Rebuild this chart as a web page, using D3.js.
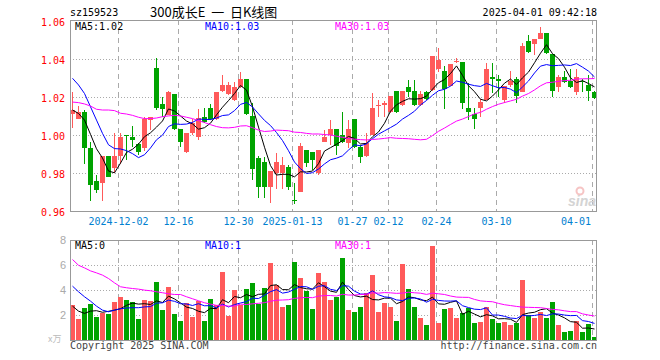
<!DOCTYPE html>
<html>
<head>
<meta charset="utf-8">
<script src="https://cdn.jsdelivr.net/npm/d3@7/dist/d3.min.js"></script>
<style>
    body { margin: 0; background: #fff; }
    text { font-family: "DejaVu Sans Mono", monospace; font-size: 10px; }
</style>
</head>
<body>
<script>
// 300成长E daily k-line, 2024-11-20 .. 2025-04-01 (88 sessions)

var tickIdx = [8, 18, 28, 37, 47, 53, 61, 71, 87];
var tickLabels = ["2024-12-02", "12-16", "12-30", "2025-01-13", "01-27", "02-12", "02-24", "03-10", "04-01"];

var open = [1.0112, 1.0086, 1.0123, 0.9933, 0.976, 0.975, 0.989, 0.983, 0.989, 1.0, 0.9991, 0.9954, 0.9933, 1.008, 1.0354, 1.0165, 1.0107, 1.0218, 1.0033, 0.991, 1.001, 0.999, 1.0098, 1.0142, 1.0084,
    1.0233, 1.0218, 1.0186, 1.0256, 1.0295, 1.0104, 0.988, 0.986, 0.9726, 0.98, 0.98, 0.9835, 0.9662, 0.9703, 0.9923, 0.9914, 0.98, 0.9967, 1.0002, 1.0033, 1.0002, 0.9958, 1.0086, 0.994, 0.9891, 1.0002, 1.0158, 1.016, 1.0125, 1.0233, 1.016, 1.0256, 1.0233, 1.016, 1.023, 1.0239, 1.0347,
    1.0339, 1.0261, 1.0389, 1.0386, 1.0146, 1.0112, 1.0142, 1.0186, 1.0305, 1.0296, 1.0186, 1.0265, 1.0295, 1.023, 1.0496, 1.0481, 1.0509, 1.0537, 1.0428, 1.0256, 1.0305, 1.0286, 1.023, 1.0284, 1.0265, 1.023];

var close = [1.0133, 1.0123, 0.9935, 0.974, 0.9714, 0.989, 0.978, 0.989, 0.9993, 0.9995, 0.9975, 0.9914, 1.0086, 1.0096, 1.0144, 1.0137, 1.023, 1.0033, 0.9965, 1.001, 1.0063, 1.009, 1.0072, 1.0084, 1.0228,
    1.0265, 1.0265, 1.0256, 1.0295, 1.011, 0.9825, 0.973, 0.9726, 0.9812, 0.9861, 0.9844, 0.973, 0.966, 0.9944, 0.9856, 0.987, 0.9923, 0.9993, 1.0033, 0.9944, 0.9967, 1.0033, 0.994, 0.9888, 0.9958, 1.0142, 1.016, 1.0168, 1.0207, 1.0125, 1.0233, 1.0228, 1.016, 1.0218, 1.0191, 1.0418, 1.0396,
    1.0244, 1.0375, 1.0393, 1.0168, 1.0125, 1.0086, 1.0177, 1.0349, 1.0296, 1.0288, 1.0261, 1.0286, 1.0207, 1.047, 1.0439, 1.0507, 1.0537, 1.0432, 1.0233, 1.0309, 1.0282, 1.0256, 1.0309, 1.0282, 1.0233, 1.0195];

var high = [1.023, 1.0154, 1.0133, 0.9967, 0.979, 0.989, 0.989, 1.001, 1.001, 1.0, 1.005, 0.996, 1.0098, 1.0096, 1.0407, 1.02, 1.0235, 1.0218, 1.0033, 1.001, 1.0088, 1.0137, 1.0142, 1.0165, 1.0228,
    1.0318, 1.028, 1.028, 1.0335, 1.0295, 1.0168, 0.989, 0.9888, 0.9812, 0.9905, 0.9888, 0.9844, 0.9747, 0.9961, 0.9923, 0.9914, 0.9923, 1.0028, 1.008, 1.0033, 1.0125, 1.008, 1.0086, 0.9949, 1.001, 1.0225, 1.0186, 1.018, 1.0207, 1.0233, 1.0233, 1.0291, 1.0291, 1.0235, 1.0235, 1.0418, 1.0458,
    1.0365, 1.0375, 1.0405, 1.0386, 1.0274, 1.0142, 1.019, 1.0379, 1.0379, 1.0318, 1.0261, 1.0339, 1.0309, 1.0484, 1.0528, 1.0507, 1.0568, 1.0537, 1.0428, 1.0318, 1.0339, 1.0347, 1.0347, 1.0295, 1.0318, 1.0233];

var low = [1.004, 1.0086, 0.985, 0.9656, 0.9695, 0.9656, 0.978, 0.98, 0.985, 0.987, 0.994, 0.9897, 0.992, 1.003, 1.0133, 1.0095, 1.0107, 1.0028, 0.994, 0.9905, 1.0002, 0.9975, 1.0063, 1.008, 1.008,
    1.023, 1.0212, 1.0182, 1.0247, 1.0107, 0.9765, 0.9668, 0.9668, 0.9646, 0.972, 0.972, 0.9712, 0.964, 0.9703, 0.9835, 0.9817, 0.979, 0.9963, 0.995, 0.9896, 0.9958, 0.9932, 0.9932, 0.9856, 0.9888, 1.0002, 1.0098, 1.0098, 1.012, 1.012, 1.0155, 1.02, 1.0155, 1.0155, 1.0186, 1.0235, 1.0335,
    1.0137, 1.0258, 1.038, 1.0137, 1.0081, 1.0032, 1.0098, 1.0186, 1.0221, 1.02, 1.0168, 1.0256, 1.0172, 1.023, 1.0435, 1.0423, 1.0505, 1.0428, 1.0204, 1.023, 1.0274, 1.0251, 1.0212, 1.023, 1.0182, 1.019];

// volume, 万手
var volume = [2.79, 1.68, 2.55, 2.87, 1.84, 2.15, 2.07, 3.03, 3.43, 3.19, 3.03, 1.68, 3.19, 3.11, 4.63, 2.39, 4.23, 2.07, 1.52, 2.95, 1.84, 3.11, 1.52, 3.27, 2.79,
    5.43, 1.91, 3.99, 2.79, 4.07, 4.55, 2.87, 4.15, 6.14, 4.39, 2.63, 2.79, 6.22, 4.95, 3.91, 2.47, 5.35, 4.63, 3.19, 3.43, 6.54, 2.39, 2.23, 2.63, 3.75, 5.19, 2.23, 2.95, 2.63, 1.52, 6.06, 4.07, 2.63, 1.76, 1.20, 7.50, 1.36,
    2.47, 2.55, 1.76, 2.15, 2.55, 1.36, 1.44, 2.63, 1.68, 1.36, 1.44, 1.20, 1.36, 4.79, 1.99, 1.76, 2.23, 1.76, 3.03, 1.20, 0.64, 0.72, 1.52, 0.64, 1.28, 0.24];

// MA values before a full window exists (earlier sessions not shown)
var ma5Head = [1.0133, 1.0115, 1.008, 1.0005];
var ma10Head = [1.030, 1.0265, 1.022, 1.015, 1.008, 1.001, 0.995, 0.993, 0.9928];
var ma30Head = [1.0175, 1.0172, 1.0165, 1.0154, 1.0137, 1.0133, 1.0133, 1.013, 1.0116, 1.0112, 1.0105, 1.0095, 1.0088, 1.0088, 1.0091,
    1.0098, 1.0102, 1.0105, 1.0102, 1.0095, 1.0088, 1.0077, 1.0067, 1.0056, 1.0046, 1.004, 1.0039, 1.0042, 1.0049];
var vma5Head = [2.71, 2.31, 2.13, 2.31];
var vma10Head = [4.31, 3.86, 3.46, 3.11, 2.71, 2.39, 2.26, 2.39, 2.5];
var vma30Head = [6.44, 5.98, 5.77, 5.53, 5.37, 5.19, 4.92, 4.57, 4.26, 4.18, 4.12, 4.07, 3.99, 3.94, 3.86,
    3.78, 3.70, 3.64, 3.64, 3.46, 3.30, 3.14, 2.98, 2.87, 2.77, 2.77, 2.71, 2.71, 2.87];

var priceTicks = [0.96, 0.98, 1.00, 1.02, 1.04, 1.06];
var volTicks = [2, 4, 6, 8];
var maLabels = ["MA5:1.02", "MA10:1.03", "MA30:1.03"];
var volMaLabels = ["MA5:0", "MA10:1", "MA30:1"];
var maColors = ["#000", "#0000ff", "#ff00ff"];

var RED = "#ff5a5a", GREEN = "#00a300", GRID = "#aaa";

function movingAvg(arr, n, head) {
    return arr.map(function (d, i) {
        if (i < n - 1) return head[i];
        return d3.mean(arr.slice(i - n + 1, i + 1));
    });
}

var L = 70, R = 597, T1 = 20, B1 = 211, T2 = 240, B2 = 340;

var svg = d3.select("body")
    .append("svg")
    .attr("width", 660)
    .attr("height", 360);

var x = d3.scaleBand()
    .domain(d3.range(close.length))
    .range([L, R])
    .paddingInner(1 / 6)
    .paddingOuter(0);

var y = d3.scaleLinear()
    .domain([0.96, 1.06])
    .range([211.3, 21.3]);

var vy = d3.scaleLinear()
    .domain([0, 8])
    .range([B2, T2]);

function up(i) {
    return close[i] >= open[i];
}

// ---- grids
function vgrid(top, bottom) {
    svg.append("g").selectAll("line")
        .data(tickIdx)
        .enter()
        .append("line")
        .attr("x1", function (d) { return x(d) + 0.5; })
        .attr("x2", function (d) { return x(d) + 0.5; })
        .attr("y1", top)
        .attr("y2", bottom)
        .attr("stroke", GRID)
        .attr("stroke-dasharray", "5,4");
}
vgrid(T1, B1);
vgrid(T2, B2);

svg.append("g").selectAll("line")
    .data(priceTicks.slice(1, -1))
    .enter()
    .append("line")
    .attr("x1", L).attr("x2", R)
    .attr("y1", function (d) { return Math.round(y(d)) + 0.5; })
    .attr("y2", function (d) { return Math.round(y(d)) + 0.5; })
    .attr("stroke", GRID)
    .attr("stroke-dasharray", "1,2");

svg.append("g").selectAll("line")
    .data(volTicks.slice(0, -1))
    .enter()
    .append("line")
    .attr("x1", L).attr("x2", R)
    .attr("y1", function (d) { return Math.round(vy(d)) + 0.5; })
    .attr("y2", function (d) { return Math.round(vy(d)) + 0.5; })
    .attr("stroke", GRID)
    .attr("stroke-dasharray", "1,2");

// ---- watermark
var wm = svg.append("g");
wm.append("circle")
    .attr("cx", 580).attr("cy", 191).attr("r", 3.5)
    .attr("fill", "none").attr("stroke", "#f6c4c4").attr("stroke-width", 2);
wm.append("text")
    .attr("x", 596).attr("y", 206)
    .attr("text-anchor", "end")
    .style("font-family", "Liberation Sans, sans-serif")
    .style("font-size", "14px")
    .style("font-style", "italic")
    .style("font-weight", "bold")
    .attr("fill", "#d4d4d4")
    .text("sina");

// ---- candles
var idx = d3.range(close.length);
var candles = svg.append("g").attr("shape-rendering", "crispEdges");

candles.selectAll("line")
    .data(idx)
    .enter()
    .append("line")
    .attr("x1", function (i) { return x(i) + 2.5; })
    .attr("x2", function (i) { return x(i) + 2.5; })
    .attr("y1", function (i) { return y(high[i]); })
    .attr("y2", function (i) { return y(low[i]); })
    .attr("stroke", function (i) { return up(i) ? RED : GREEN; });

candles.selectAll("rect")
    .data(idx)
    .enter()
    .append("rect")
    .attr("x", function (i) { return x(i); })
    .attr("width", x.bandwidth())
    .attr("y", function (i) { return y(Math.max(open[i], close[i])); })
    .attr("height", function (i) { return Math.max(1, Math.abs(y(open[i]) - y(close[i]))); })
    .attr("fill", function (i) { return up(i) ? RED : GREEN; });

// ---- volume bars
svg.append("g").attr("shape-rendering", "crispEdges")
    .selectAll("rect")
    .data(idx)
    .enter()
    .append("rect")
    .attr("x", function (i) { return x(i); })
    .attr("width", x.bandwidth())
    .attr("y", function (i) { return vy(volume[i]); })
    .attr("height", function (i) { return B2 - vy(volume[i]); })
    .attr("fill", function (i) { return up(i) ? RED : GREEN; });

// ---- moving averages
var priceMA = [movingAvg(close, 5, ma5Head), movingAvg(close, 10, ma10Head), movingAvg(close, 30, ma30Head)];
var volMA = [movingAvg(volume, 5, vma5Head), movingAvg(volume, 10, vma10Head), movingAvg(volume, 30, vma30Head)];

function drawLines(series, scale) {
    series.forEach(function (s, k) {
        var line = d3.line()
            .x(function (d, i) { return x(i) + 2.5; })
            .y(function (d) { return scale(d); });
        svg.append("path")
            .datum(s)
            .attr("d", line)
            .attr("fill", "none")
            .attr("stroke", maColors[k])
            .attr("stroke-width", 1);
    });
}
drawLines(volMA, vy);
drawLines(priceMA, y);

// ---- frames
[[T1, B1], [T2, B2]].forEach(function (p) {
    svg.append("rect")
        .attr("x", L + 0.5).attr("y", p[0] + 0.5)
        .attr("width", R - L - 1).attr("height", p[1] - p[0])
        .attr("fill", "none")
        .attr("stroke", "#999");
});

// ---- axis labels
svg.append("g").selectAll("text")
    .data(priceTicks)
    .enter()
    .append("text")
    .attr("x", 65)
    .attr("y", function (d) { return y(d) + 4.5; })
    .attr("text-anchor", "end")
    .attr("fill", "#f00")
    .text(function (d) { return d.toFixed(2); });

svg.append("g").selectAll("text")
    .data(volTicks)
    .enter()
    .append("text")
    .attr("x", 66)
    .attr("y", function (d) { return vy(d) + 4; })
    .attr("text-anchor", "end")
    .attr("fill", "#aaa")
    .style("font-family", "Liberation Sans, sans-serif")
    .style("font-size", "11px")
    .text(function (d) { return d; });

svg.append("text")
    .attr("x", 48).attr("y", 342)
    .attr("fill", "#bbb")
    .style("font-family", "Noto Sans CJK SC, sans-serif")
    .style("font-size", "9px")
    .text("x万");

// date labels centred on their tick, last one kept inside the frame
svg.append("g").selectAll("text")
    .data(tickIdx)
    .enter()
    .append("text")
    .attr("x", function (d, k) { return k === tickIdx.length - 1 ? R - 6 : x(d) + 0.5; })
    .attr("y", 225)
    .attr("text-anchor", function (d, k) { return k === tickIdx.length - 1 ? "end" : "middle"; })
    .attr("fill", "#0080d0")
    .text(function (d, k) { return tickLabels[k]; });

// ---- legends
var legX = [75, 205, 335];
maLabels.forEach(function (t, k) {
    svg.append("text").attr("x", legX[k]).attr("y", 30).attr("fill", maColors[k]).text(t);
});
volMaLabels.forEach(function (t, k) {
    svg.append("text").attr("x", legX[k]).attr("y", 249).attr("fill", maColors[k]).text(t);
});

// ---- header / footer
svg.append("text").attr("x", 70).attr("y", 16).attr("fill", "#000").text("sz159523");
svg.append("text")
    .attr("x", 150).attr("y", 17)
    .attr("fill", "#000")
    .style("font-family", "Noto Sans CJK SC, sans-serif")
    .style("font-size", "13px")
    .style("white-space", "pre")
    .text("300成长E  一  日K线图");
svg.append("text").attr("x", 597).attr("y", 16).attr("text-anchor", "end").attr("fill", "#000").text("2025-04-01 09:42:18");
svg.append("text").attr("x", 70).attr("y", 349).attr("fill", "#444").text("Copyright 2025 SINA.COM");
svg.append("text").attr("x", 597).attr("y", 349).attr("text-anchor", "end").attr("fill", "#444").text("http://finance.sina.com.cn");
</script>
</body>
</html>
